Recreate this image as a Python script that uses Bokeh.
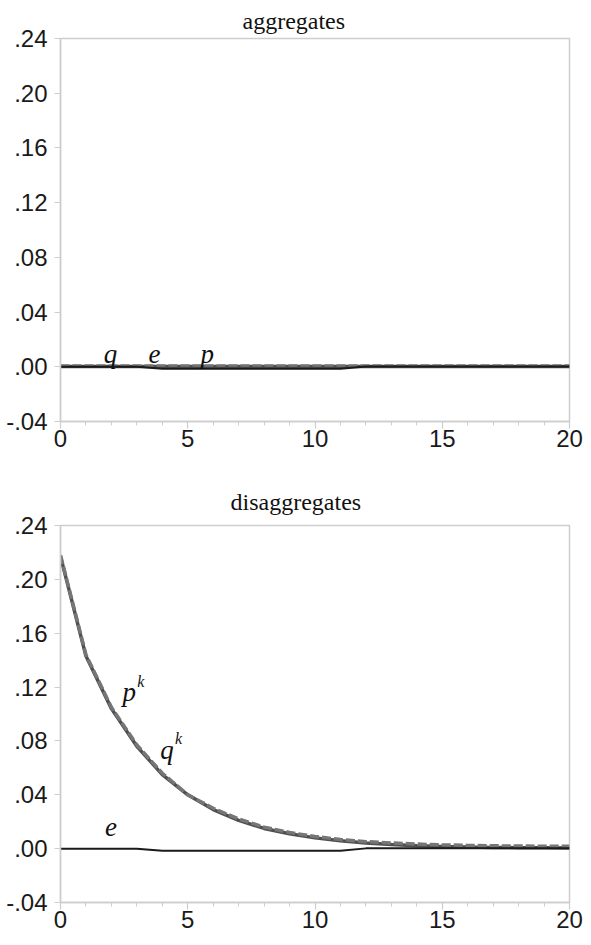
from bokeh.plotting import figure
from bokeh.layouts import column
from bokeh.models import Range1d, FixedTicker
from bokeh.core.properties import value
from bokeh.embed import file_html
from bokeh.resources import INLINE

# ---------------- data ----------------
periods = list(range(21))

# aggregates panel
agg_q = [0.0002, 0.0002, 0.0002, 0.0002, 0.0002, 0.0002, 0.0002, 0.0002, 0.0002, 0.0002, 0.0002,
         0.0002, 0.0002, 0.0002, 0.0002, 0.0002, 0.0002, 0.0002, 0.0002, 0.0002, 0.0002]
agg_p = [0.0010, 0.0010, 0.0010, 0.0010, 0.0010, 0.0010, 0.0010, 0.0010, 0.0010, 0.0010, 0.0010,
         0.0010, 0.0010, 0.0010, 0.0010, 0.0010, 0.0010, 0.0010, 0.0010, 0.0010, 0.0010]
agg_e = [0.0, 0.0, 0.0, 0.0, -0.0015, -0.0015, -0.0015, -0.0015, -0.0015, -0.0015, -0.0015,
         -0.0015, 0.0002, 0.0002, 0.0002, 0.0002, 0.0002, 0.0002, 0.0002, 0.0002, 0.0002]

# disaggregates panel
dis_pk = [0.217, 0.143, 0.104, 0.076, 0.055, 0.040, 0.029, 0.021, 0.015, 0.011, 0.008,
          0.0058, 0.0042, 0.0030, 0.0022, 0.0016, 0.0012, 0.0009, 0.0007, 0.0006, 0.0005]
dis_qk = [0.218, 0.144, 0.105, 0.077, 0.056, 0.040, 0.030, 0.022, 0.016, 0.012, 0.009,
          0.0068, 0.0052, 0.0042, 0.0034, 0.0028, 0.0024, 0.0021, 0.0019, 0.0018, 0.0017]
dis_e = [0.0, 0.0, 0.0, 0.0, -0.0015, -0.0015, -0.0015, -0.0015, -0.0015, -0.0015, -0.0015,
         -0.0015, 0.0002, 0.0002, 0.0002, 0.0002, 0.0002, 0.0002, 0.0002, 0.0002, 0.0002]

y_ticks = [-0.04, 0.0, 0.04, 0.08, 0.12, 0.16, 0.20, 0.24]
y_tick_labels = ["-.04", ".00", ".04", ".08", ".12", ".16", ".20", ".24"]
x_ticks = [0, 5, 10, 15, 20]
x_minor_ticks = list(range(21))
titles = ["aggregates", "disaggregates"]

# series labels (text, x, y)
agg_labels = ["q", "e", "p"]
agg_label_x = [1.96, 3.69, 5.77]
agg_label_y = [0.009, 0.009, 0.009]

dis_labels = ["p", "q", "e"]
dis_label_x = [2.70, 4.18, 1.98]
dis_label_y = [0.116, 0.0735, 0.016]
dis_sup = ["k", "k"]
dis_sup_x = [3.02, 4.50]
dis_sup_y = [0.124, 0.082]

# ---------------- styling ----------------
W = 583
FRAME_GRAY = "#cdcdcd"
SOLID = "#4f4f4f"
DASHED = "#767676"
SERIF = "Liberation Serif"
SANS = "Liberation Sans"


def make_fig(title, height, border_top, border_bottom, title_offset, title_standoff):
    p = figure(width=W, height=height, output_backend="svg", toolbar_location=None,
               x_range=Range1d(0, 20), y_range=Range1d(-0.04, 0.24),
               min_border_left=60, min_border_right=14,
               min_border_top=border_top, min_border_bottom=border_bottom)
    p.title.text = title
    p.title.align = "left"
    p.title.offset = title_offset
    p.title.standoff = title_standoff
    p.title.text_font = SERIF
    p.title.text_font_style = "normal"
    p.title.text_font_size = "24px"
    p.title.text_color = "#111111"

    p.xgrid.visible = False
    p.ygrid.visible = False
    p.outline_line_color = FRAME_GRAY
    p.outline_line_width = 1.5
    p.background_fill_color = "white"
    p.border_fill_color = "white"

    p.xaxis.ticker = FixedTicker(ticks=x_ticks, minor_ticks=x_minor_ticks)
    p.yaxis.ticker = FixedTicker(ticks=y_ticks, minor_ticks=[])
    p.yaxis.major_label_overrides = {t: s for t, s in zip(y_ticks, y_tick_labels)}

    for ax in (p.xaxis, p.yaxis):
        ax.axis_line_color = FRAME_GRAY
        ax.axis_line_width = 1.5
        ax.major_tick_line_color = FRAME_GRAY
        ax.minor_tick_line_color = FRAME_GRAY
        ax.major_tick_line_width = 1.2
        ax.minor_tick_line_width = 1.0
        ax.major_tick_in = 0
        ax.minor_tick_in = 0
        ax.major_label_text_font = SANS
        ax.major_label_text_color = "#1a1a1a"
        ax.major_label_text_font_size = "24px"
    p.xaxis.major_tick_out = 7
    p.xaxis.minor_tick_out = 4
    p.xaxis.major_label_standoff = 1
    p.yaxis.major_tick_out = 6
    p.yaxis.minor_tick_out = 0
    p.yaxis.major_label_standoff = 7
    return p


# top panel
p1 = make_fig(titles[0], 467, 38, 46, 182, 9)
p1.line(periods, agg_q, line_color=SOLID, line_width=3.5)
p1.line(periods, agg_p, line_color=DASHED, line_width=2.5, line_dash="9 3")
p1.line(periods, agg_e, line_color="#1a1a1a", line_width=2)
p1.text(x=agg_label_x, y=agg_label_y, text=agg_labels, text_font=value(SERIF),
        text_font_style="italic", text_font_size="27px", text_color="#111111",
        text_align="center", text_baseline="alphabetic")

# bottom panel
p2 = make_fig(titles[1], 470, 58, 35, 170, 22)
p2.line(periods, dis_pk, line_color=SOLID, line_width=3.5)
p2.line(periods, dis_qk, line_color=DASHED, line_width=3.5, line_dash="9 3")
p2.line(periods, dis_e, line_color="#1a1a1a", line_width=2)
p2.text(x=dis_label_x, y=dis_label_y, text=dis_labels, text_font=value(SERIF),
        text_font_style="italic", text_font_size="27px", text_color="#111111",
        text_align="center", text_baseline="alphabetic")
p2.text(x=dis_sup_x, y=dis_sup_y, text=dis_sup, text_font=value(SERIF),
        text_font_style="italic", text_font_size="16px", text_color="#111111",
        text_align="left", text_baseline="alphabetic")

layout = column(p1, p2, spacing=0)
open("out.html", "w").write(file_html(layout, INLINE))
